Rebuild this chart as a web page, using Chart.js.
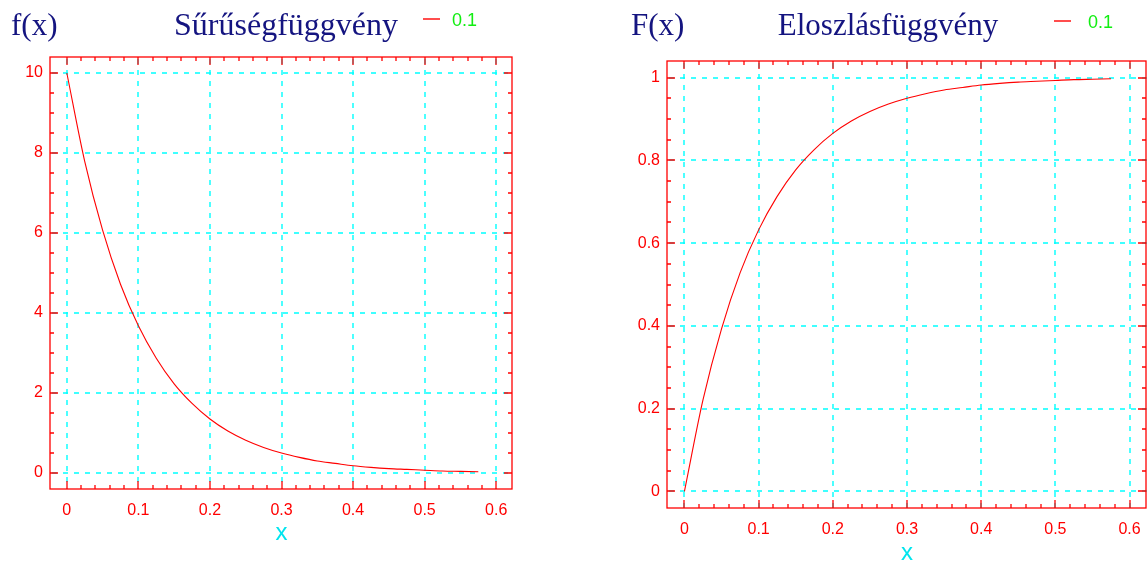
<!DOCTYPE html>
<html>
<head>
<meta charset="utf-8">
<title>Exponenciális eloszlás</title>
<script src="https://cdn.jsdelivr.net/npm/chart.js@4/dist/chart.umd.min.js"></script>
<style>
  body { margin: 0; overflow: hidden; background: #fff; }
  canvas { position: absolute; top: 0; }
  #pdfChart { left: 0; }
  #cdfChart { left: 600px; }
</style>
</head>
<body>
<canvas id="pdfChart" width="560" height="600"></canvas>
<canvas id="cdfChart" width="560" height="600"></canvas>
<script>
// values
const xValues = [0, 0.025, 0.05, 0.075, 0.1, 0.125, 0.15, 0.175, 0.2, 0.225, 0.25, 0.275,
  0.3, 0.325, 0.35, 0.375, 0.4, 0.425, 0.45, 0.475, 0.5, 0.525, 0.55, 0.575];
const pdfValues = [10, 7.79, 6.07, 4.72, 3.68, 2.87, 2.23, 1.74, 1.35, 1.05, 0.82, 0.64,
  0.50, 0.39, 0.30, 0.24, 0.18, 0.14, 0.11, 0.09, 0.07, 0.05, 0.04, 0.03];
const cdfValues = [0, 0.221, 0.393, 0.528, 0.632, 0.713, 0.777, 0.826, 0.865, 0.895, 0.918, 0.936,
  0.950, 0.961, 0.970, 0.976, 0.982, 0.986, 0.989, 0.991, 0.993, 0.995, 0.996, 0.997];
const seriesLabel = "0.1";
const xTicks = [0, 0.1, 0.2, 0.3, 0.4, 0.5, 0.6];
const pdfTicks = [0, 2, 4, 6, 8, 10];
const cdfTicks = [0, 0.2, 0.4, 0.6, 0.8, 1];

const RED = "#ff0000";
const CYAN = "#00ffff";

// dashed cyan grid at the major ticks, drawn under the curve
const gridPlugin = {
  id: "dotGrid",
  beforeDatasetsDraw(chart) {
    const ctx = chart.ctx;
    const a = chart.chartArea;
    ctx.save();
    ctx.strokeStyle = CYAN;
    ctx.lineWidth = 1.4;
    ctx.setLineDash([5, 6]);
    ctx.beginPath();
    chart.scales.x.ticks.forEach(t => {
      const px = Math.round(chart.scales.x.getPixelForValue(t.value));
      ctx.moveTo(px, a.top + 2); ctx.lineTo(px, a.bottom);
    });
    chart.scales.y.ticks.forEach(t => {
      const py = Math.round(chart.scales.y.getPixelForValue(t.value));
      ctx.moveTo(a.left + 2, py); ctx.lineTo(a.right, py);
    });
    ctx.stroke();
    ctx.restore();
  }
};

// frame, inward ticks and the header row
const framePlugin = {
  id: "frame",
  afterDraw(chart, args, opts) {
    const ctx = chart.ctx;
    const a = chart.chartArea;
    const xs = chart.scales.x;
    const ys = chart.scales.y;
    ctx.save();
    ctx.strokeStyle = RED;
    ctx.lineWidth = 1.3;
    ctx.strokeRect(a.left, a.top, a.right - a.left - 1, a.bottom - a.top);

    ctx.beginPath();
    const majX = opts.xMajor, majY = opts.yMajor;
    for (let i = 0; i < majX.length; i++) {
      const px = Math.round(xs.getPixelForValue(majX[i]));
      ctx.moveTo(px, a.bottom); ctx.lineTo(px, a.bottom - 8);
      ctx.moveTo(px, a.top); ctx.lineTo(px, a.top + 8);
      if (i < majX.length - 1) {
        for (let k = 1; k < opts.xSub; k++) {
          const v = majX[i] + (majX[i + 1] - majX[i]) * k / opts.xSub;
          const p = Math.round(xs.getPixelForValue(v));
          ctx.moveTo(p, a.bottom); ctx.lineTo(p, a.bottom - 4);
          ctx.moveTo(p, a.top); ctx.lineTo(p, a.top + 4);
        }
      }
    }
    for (let i = 0; i < majY.length; i++) {
      const py = Math.round(ys.getPixelForValue(majY[i]));
      ctx.moveTo(a.left, py); ctx.lineTo(a.left + 8, py);
      ctx.moveTo(a.right - 1, py); ctx.lineTo(a.right - 9, py);
      if (i < majY.length - 1) {
        for (let k = 1; k < opts.ySub; k++) {
          const v = majY[i] + (majY[i + 1] - majY[i]) * k / opts.ySub;
          const p = Math.round(ys.getPixelForValue(v));
          ctx.moveTo(a.left, p); ctx.lineTo(a.left + 4, p);
          ctx.moveTo(a.right - 1, p); ctx.lineTo(a.right - 5, p);
        }
      }
    }
    ctx.stroke();

    // header: function name, title, small legend
    ctx.fillStyle = "#141480";
    ctx.font = "31px 'Liberation Serif', 'Times New Roman', serif";
    ctx.textBaseline = "alphabetic";
    ctx.textAlign = "left";
    ctx.fillText(opts.yLabel, opts.yLabelX, 35);
    ctx.textAlign = "center";
    ctx.font = opts.titleFont;
    ctx.fillText(opts.title, opts.titleX, 35);

    const ds = chart.data.datasets[0];
    ctx.strokeStyle = ds.borderColor;
    ctx.lineWidth = 1.4;
    ctx.beginPath();
    ctx.moveTo(opts.legendX, opts.legendY);
    ctx.lineTo(opts.legendX + 17, opts.legendY);
    ctx.stroke();
    ctx.fillStyle = "#11ee11";
    ctx.font = "18px 'Liberation Sans', Arial, sans-serif";
    ctx.textAlign = "left";
    ctx.fillText(ds.label, opts.legendX + opts.legendGap, opts.legendY + 7);
    ctx.restore();
  }
};

function createChart(canvasId, values, yTicks, yMin, yMax, setup) {
  const points = xValues.map((x, i) => ({ x: x, y: values[i] }));
  const tickFont = { family: "'Liberation Sans', Arial, sans-serif", size: 16 };

  return new Chart(document.getElementById(canvasId), {
    type: "line",
    data: {
      datasets: [{
        label: seriesLabel,
        data: points,
        borderColor: RED,
        borderWidth: 1.1,
        pointRadius: 0,
        fill: false,
        cubicInterpolationMode: "monotone"
      }]
    },
    options: {
      responsive: false,
      animation: false,
      devicePixelRatio: 1,
      layout: { padding: setup.padding },
      plugins: {
        legend: { display: false },
        tooltip: { enabled: false },
        frame: {
          xMajor: xTicks, yMajor: yTicks, xSub: 5, ySub: 4,
          yLabel: setup.yLabel, yLabelX: setup.yLabelX,
          title: setup.title, titleX: setup.titleX, titleFont: setup.titleFont,
          legendX: setup.legendX, legendY: setup.legendY, legendGap: setup.legendGap
        }
      },
      scales: {
        x: {
          type: "linear",
          min: -0.0235,
          max: 0.6235,
          afterBuildTicks: s => { s.ticks = xTicks.map(v => ({ value: v })); },
          afterFit: s => { s.height = setup.xHeight; },
          ticks: { color: RED, font: tickFont, padding: 12, maxRotation: 0, callback: v => String(v) },
          grid: { display: false, drawTicks: false },
          border: { display: false },
          title: {
            display: true, text: "x", color: "#00e5ee",
            font: { family: "'Liberation Sans', Arial, sans-serif", size: 24 },
            padding: { top: 0, bottom: setup.xTitlePad }
          }
        },
        y: {
          type: "linear",
          min: yMin,
          max: yMax,
          afterBuildTicks: s => { s.ticks = yTicks.map(v => ({ value: v })); },
          afterFit: s => { s.width = setup.yWidth; },
          ticks: { color: RED, font: tickFont, padding: 7, callback: v => String(v) },
          grid: { display: false, drawTicks: false },
          border: { display: false }
        }
      }
    },
    plugins: [gridPlugin, framePlugin]
  });
}

createChart("pdfChart", pdfValues, pdfTicks, -0.4, 10.4, {
  padding: { top: 57, right: 47, bottom: 0, left: 0 },
  xHeight: 111, yWidth: 50, xTitlePad: 52,
  yLabel: "f(x)", yLabelX: 11, title: "Sűrűségfüggvény", titleX: 286,
  titleFont: "32px 'Liberation Serif', 'Times New Roman', serif",
  legendX: 423, legendY: 19, legendGap: 29
});

createChart("cdfChart", cdfValues, cdfTicks, -0.04, 1.04, {
  padding: { top: 61, right: 13, bottom: 0, left: 0 },
  xHeight: 92, yWidth: 67, xTitlePad: 32,
  yLabel: "F(x)", yLabelX: 31, title: "Eloszlásfüggvény", titleX: 288,
  titleFont: "31px 'Liberation Serif', 'Times New Roman', serif",
  legendX: 454, legendY: 21, legendGap: 34
});
</script>
</body>
</html>
